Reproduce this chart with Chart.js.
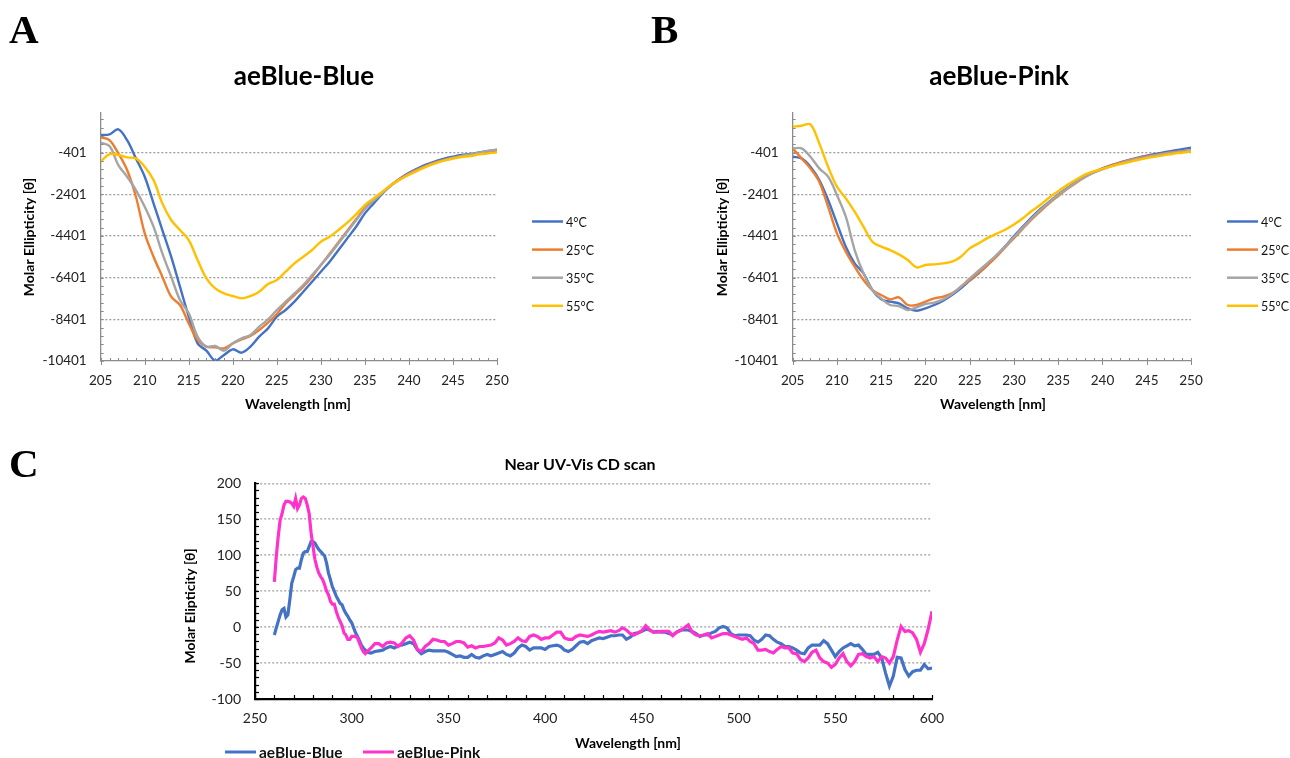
<!DOCTYPE html>
<html>
<head>
<meta charset="utf-8">
<script src="https://cdn.jsdelivr.net/npm/chart.js@4.4.1/dist/chart.umd.min.js"></script>
<style>
  html, body { margin: 0; padding: 0; background: #fff; }
  #wrap { position: relative; width: 1290px; height: 758px; overflow: hidden; }
  #wrap canvas { position: absolute; left: 0; top: 0; }
</style>
</head>
<body>
<div id="wrap">
  <canvas id="chartA" width="1290" height="758"></canvas>
  <canvas id="chartB" width="1290" height="758"></canvas>
  <canvas id="chartC" width="1290" height="758"></canvas>
</div>
<script>
'use strict';

// ---- data: far UV (panels A and B) ----
var temps = ['4°C', '25°C', '35°C', '55°C'];
var wlFar = [205,206,207,208,209,210,211,212,213,214,215,216,217,218,219,220,221,222,223,224,225,
  226,227,228,229,230,231,232,233,234,235,236,237,238,239,240,241,242,243,244,245,246,247,248,249,250];
var yTicksFar = [-10401, -8401, -6401, -4401, -2401, -401];
var xTicksFar = [205, 210, 215, 220, 225, 230, 235, 240, 245, 250];

var blueA4 = [447,479,719,199,-673,-1553,-2833,-4113,-5393,-6833,-8273,-9553,-9905,-10385,-10113,-9841,
  -10001,-9713,-9233,-8833,-8273,-7953,-7553,-7073,-6593,-6113,-5633,-5073,-4513,-3953,-3313,-2833,-2353,
  -1953,-1633,-1361,-1153,-961,-817,-689,-593,-513,-465,-385,-321,-273];
var blueA25 = [335,207,-433,-1233,-2513,-4273,-5393,-6353,-7313,-7713,-8593,-9393,-9713,-9745,-9793,-9553,
  -9361,-9201,-8913,-8561,-8145,-7633,-7233,-6833,-6353,-5793,-5250,-4700,-4150,-3600,-3050,-2650,-2300,
  -1950,-1650,-1400,-1200,-1020,-870,-750,-650,-570,-500,-420,-350,-290];
var blueA35 = [79,-81,-993,-1553,-2193,-2993,-3953,-5233,-6353,-7473,-8113,-9233,-9713,-9681,-9905,-9553,
  -9313,-9153,-8753,-8401,-7953,-7553,-7153,-6753,-6273,-5793,-5300,-4750,-4200,-3650,-3100,-2700,-2330,
  -1970,-1680,-1430,-1230,-1050,-890,-760,-650,-560,-480,-400,-320,-240];
var blueA55 = [-833,-465,-513,-625,-673,-1073,-1713,-2833,-3633,-4113,-4593,-5553,-6433,-6913,-7153,-7281,
  -7393,-7281,-7073,-6705,-6513,-6113,-5713,-5393,-5073,-4673,-4433,-4113,-3761,-3361,-2913,-2593,-2273,
  -1953,-1681,-1473,-1265,-1073,-913,-785,-689,-609,-561,-481,-433,-385];

var pinkB4 = [-593,-673,-1073,-1713,-2673,-3793,-4913,-5713,-6193,-6993,-7441,-7553,-7633,-7873,-7985,-7873,
  -7713,-7505,-7233,-6913,-6545,-6193,-5800,-5350,-4900,-4401,-3950,-3500,-3100,-2750,-2401,-2100,-1800,
  -1550,-1330,-1150,-1000,-870,-750,-640,-545,-460,-380,-300,-230,-161];
var pinkB25 = [-193,-673,-1153,-1793,-2993,-4273,-5153,-5873,-6513,-6993,-7233,-7441,-7345,-7713,-7713,-7553,
  -7393,-7313,-7153,-6833,-6513,-6161,-5800,-5400,-4950,-4500,-4050,-3600,-3200,-2820,-2480,-2150,-1850,
  -1580,-1350,-1170,-1010,-880,-760,-660,-580,-510,-440,-380,-330,-290];
var pinkB35 = [-193,-193,-593,-1153,-1553,-2433,-3473,-5073,-6193,-6993,-7393,-7713,-7761,-7953,-7825,-7665,
  -7601,-7441,-7185,-6833,-6433,-6065,-5700,-5330,-4900,-4450,-4000,-3560,-3150,-2770,-2430,-2120,-1820,
  -1560,-1360,-1200,-1050,-920,-800,-700,-610,-530,-460,-400,-350,-300];
var pinkB55 = [847,895,959,47,-1073,-2033,-2593,-3233,-3953,-4673,-4913,-5073,-5281,-5553,-5905,-5793,
  -5761,-5713,-5633,-5393,-4993,-4753,-4500,-4300,-4100,-3850,-3550,-3200,-2900,-2550,-2250,-1950,-1700,
  -1450,-1300,-1180,-1060,-950,-850,-750,-660,-590,-520,-450,-400,-340];

// ---- data: near UV-Vis (panel C) ----
var wlNear = [260,261,262,263,264,265,266,267,268,269,270,271,272,273,274,275,276,277,278,279,280,281,282,
  283,284,285,286,287,288,289,290,291,292,293,294,295,296,297,298,299,300,301,302,303,304,305,306,307,308,
  310,312,314,316,318,320,322,324,326,328,330,332,334,336,338,340,342,344,346,348,350,352,354,356,358,
  360,362,364,366,368,370,372,374,376,378,380,382,384,386,388,390,392,394,396,398,400,402,404,406,408,
  410,412,414,416,418,420,422,424,426,428,430,432,434,436,438,440,442,444,446,448,450,452,454,456,458,
  460,462,464,466,468,470,472,474,476,478,480,482,484,486,488,490,492,494,496,498,500,502,504,506,508,
  510,512,514,516,518,520,522,524,526,528,530,532,534,536,538,540,542,544,546,548,550,552,554,556,558,
  560,562,564,566,568,570,572,574,576,578,580,582,584,586,588,590,592,594,596,598,600];
var xTicksNear = [250, 300, 350, 400, 450, 500, 550, 600];
var yTicksNear = [-100, -50, 0, 50, 100, 150, 200];

var nearBlue = [-11,-1,8,17,24,26,14,17,38,61,70,80,82,82,94,103,105,105,112,119,119,117,112,108,105,102,99,
  89,75,66,56,50,43,38,33,31,24,19,15,10,6,-1,-8,-13,-19,-25,-29,-32,-35,
  -36,-34,-33,-32,-29,-27,-29,-26,-25,-23,-21,-23,-32,-37,-34,-32,-33,-33,-33,-33,
  -35,-38,-41,-40,-42,-42,-38,-42,-43,-40,-38,-40,-38,-36,-34,-38,-40,-36,-29,-25,
  -27,-32,-29,-29,-29,-31,-27,-26,-25,-27,-32,-34,-31,-26,-21,-20,-23,-19,-17,-15,-16,
  -14,-12,-12,-11,-11,-17,-14,-9,-8,-6,-3,-4,-7,-6,-7,-7,-9,-11,-7,-4,
  -4,-4,-6,-9,-13,-11,-11,-8,-6,-1,1,-1,-9,-12,-11,-11,-11,-12,-18,-21,
  -17,-11,-12,-17,-21,-23,-27,-27,-29,-32,-36,-37,-29,-25,-25,-25,-19,-23,-32,-41,
  -34,-29,-26,-23,-26,-25,-31,-38,-38,-38,-35,-43,-64,-82,-68,-42,-43,-59,-68,-62,
  -60,-60,-52,-58,-57];
var nearPink = [63,98,126,149,158,170,175,175,174,172,168,179,165,170,179,181,179,170,158,131,112,94,83,
  75,70,66,59,50,45,36,32,32,22,14,8,2,-8,-11,-17,-17,-13,-13,-13,-15,-22,-29,-34,-37,-34,
  -29,-23,-23,-27,-22,-21,-22,-27,-22,-15,-12,-18,-31,-34,-27,-23,-17,-18,-20,-20,
  -25,-23,-20,-20,-22,-28,-26,-29,-27,-27,-26,-25,-22,-15,-18,-25,-23,-20,-15,-19,
  -20,-13,-11,-13,-17,-15,-15,-11,-7,-7,-15,-17,-17,-13,-11,-12,-13,-11,-8,-6,-7,
  -6,-5,-7,-5,-1,-4,-9,-11,-8,-5,2,-4,-7,-7,-6,-6,-6,-12,-7,-5,
  -1,3,-7,-11,-12,-11,-9,-15,-13,-11,-9,-9,-11,-13,-15,-17,-15,-20,-23,-32,
  -32,-31,-34,-36,-31,-27,-29,-29,-36,-37,-45,-48,-43,-35,-32,-43,-48,-50,-56,-52,
  -43,-37,-48,-54,-48,-38,-37,-41,-43,-41,-48,-41,-43,-50,-41,-18,1,-6,-5,-8,
  -17,-35,-23,-3,22];

var farColors = ['#4472C4', '#ED7D31', '#A5A5A5', '#FFC000'];
var FONT = 'Lato, "Open Sans", sans-serif';

Chart.defaults.font.family = FONT;
Chart.defaults.color = '#222';

// draws panel letter, titles, legend and the small tick marks
var decor = {
  id: 'decor',
  afterDraw: function (chart, args, o) {
    var ctx = chart.ctx, a = chart.chartArea;
    var xs = chart.scales.x, ys = chart.scales.y;
    ctx.save();
    ctx.strokeStyle = o.tickColor;
    ctx.lineWidth = o.tickWidth;
    var v, p, major;
    for (v = xs.min; v <= xs.max + 1e-6; v += o.xMinor) {
      p = Math.round(xs.getPixelForValue(v)) + 0.5;
      major = Math.abs((v - xs.min) % o.xMajor) < 1e-6;
      ctx.beginPath();
      ctx.moveTo(p, a.bottom - (major ? o.majorIn : o.minorIn));
      ctx.lineTo(p, a.bottom + (major ? o.majorOut : 0));
      ctx.stroke();
    }
    for (v = o.yFrom; v <= ys.max + 1e-6; v += o.yMinor) {
      p = Math.round(ys.getPixelForValue(v)) + 0.5;
      ctx.beginPath();
      ctx.moveTo(a.left, p);
      ctx.lineTo(a.left + o.minorIn, p);
      ctx.stroke();
    }

    ctx.fillStyle = '#000';
    ctx.textBaseline = 'alphabetic';
    ctx.textAlign = 'left';
    ctx.font = 'bold 41px "Liberation Serif", "Times New Roman", serif';
    ctx.fillText(o.letter.text, o.letter.x, o.letter.y);

    ctx.textBaseline = 'middle';
    ctx.textAlign = 'center';
    ctx.font = o.title.font;
    ctx.fillText(o.title.text, o.title.x, o.title.y);
    ctx.font = o.axisFont;
    ctx.fillText(o.xTitle.text, o.xTitle.x, o.xTitle.y);
    ctx.save();
    ctx.translate(o.yTitle.x, o.yTitle.y);
    ctx.rotate(-Math.PI / 2);
    ctx.fillText(o.yTitle.text, 0, 0);
    ctx.restore();

    var lg = o.legend;
    ctx.textAlign = 'left';
    ctx.font = lg.font;
    chart.data.datasets.forEach(function (d, i) {
      var lx = lg.x + i * lg.dx, ly = lg.y + i * lg.dy;
      ctx.strokeStyle = d.borderColor;
      ctx.lineWidth = lg.width;
      ctx.beginPath();
      ctx.moveTo(lx, ly);
      ctx.lineTo(lx + lg.line, ly);
      ctx.stroke();
      ctx.fillStyle = '#111';
      ctx.fillText(d.label, lx + lg.line + lg.gap, ly + 1);
    });
    ctx.restore();
  }
};

function series(xs, ys) {
  return xs.map(function (x, i) { return { x: x, y: ys[i] }; });
}

function farChart(id, values, area, text) {
  var datasets = values.map(function (vals, i) {
    return {
      label: temps[i],
      data: series(wlFar, vals),
      borderColor: farColors[i],
      borderWidth: 2.4,
      pointRadius: 0,
      tension: 0.35,
      order: -i
    };
  });
  return new Chart(document.getElementById(id), {
    type: 'line',
    data: { datasets: datasets },
    plugins: [decor],
    options: {
      responsive: false,
      animation: false,
      events: [],
      layout: { padding: { left: area.left - 60, top: area.top, right: 1290 - area.right, bottom: 758 - area.bottom - 40 } },
      scales: {
        x: {
          type: 'linear', min: 205, max: 250,
          afterBuildTicks: function (s) { s.ticks = xTicksFar.map(function (v) { return { value: v }; }); },
          afterFit: function (s) { s.height = 40; },
          ticks: { padding: 12, autoSkip: false, maxRotation: 0, color: '#222', font: { size: 13.5 },
            callback: function (v) { return String(v); } },
          grid: { display: false, drawTicks: false },
          border: { display: true, color: '#8c8c8c', width: 1.3 }
        },
        y: {
          type: 'linear', min: -10401, max: 1520,
          afterBuildTicks: function (s) { s.ticks = yTicksFar.map(function (v) { return { value: v }; }); },
          afterFit: function (s) { s.width = 60; },
          ticks: { padding: 14, color: '#222', font: { size: 13.5 },
            callback: function (v) { return String(v); } },
          grid: { drawTicks: false, lineWidth: 1.3,
            color: function (c) { return c.tick && c.tick.value === yTicksFar[0] ? 'rgba(0,0,0,0)' : '#9c9c9c'; } },
          border: { display: true, color: '#8c8c8c', width: 1.3, dash: [2, 2] }
        }
      },
      plugins: {
        legend: { display: false },
        tooltip: { enabled: false },
        decor: {
          tickColor: '#8c8c8c', tickWidth: 1, xMinor: 1, xMajor: 5, minorIn: 3, majorIn: 3, majorOut: 4,
          yFrom: -10401, yMinor: 400,
          letter: text.letter,
          title: { text: text.title, x: text.titleX, y: 77, font: 'bold 26px ' + FONT },
          axisFont: 'bold 14px ' + FONT,
          xTitle: { text: 'Wavelength [nm]', x: text.xTitleX, y: 404 },
          yTitle: { text: 'Molar Ellipticity [θ]', x: text.yTitleX, y: 237 },
          legend: { x: text.legendX, y: 221.5, dx: 0, dy: 28.1, line: 31, gap: 3, width: 2.5, font: '12.5px ' + FONT }
        }
      }
    }
  });
}

farChart('chartA', [blueA4, blueA25, blueA35, blueA55],
  { left: 100.7, top: 112.7, right: 497, bottom: 361 },
  { letter: { text: 'A', x: 9, y: 43 }, title: 'aeBlue-Blue', titleX: 304, xTitleX: 298, yTitleX: 29, legendX: 532 });

farChart('chartB', [pinkB4, pinkB25, pinkB35, pinkB55],
  { left: 792.7, top: 112.7, right: 1191, bottom: 361 },
  { letter: { text: 'B', x: 651, y: 43 }, title: 'aeBlue-Pink', titleX: 999, xTitleX: 993, yTitleX: 722, legendX: 1227 });

new Chart(document.getElementById('chartC'), {
  type: 'line',
  data: {
    datasets: [
      { label: 'aeBlue-Blue', data: series(wlNear, nearBlue), borderColor: '#4472C4', borderWidth: 3.2,
        pointRadius: 0, tension: 0, order: 0 },
      { label: 'aeBlue-Pink', data: series(wlNear, nearPink), borderColor: '#FF33CC', borderWidth: 3.2,
        pointRadius: 0, tension: 0, order: -1 }
    ]
  },
  plugins: [decor],
  options: {
    responsive: false,
    animation: false,
    events: [],
    layout: { padding: { left: 255 - 60, top: 483.3, right: 1290 - 932, bottom: 758 - 699 - 40 } },
    scales: {
      x: {
        type: 'linear', min: 250, max: 600,
        afterBuildTicks: function (s) { s.ticks = xTicksNear.map(function (v) { return { value: v }; }); },
        afterFit: function (s) { s.height = 40; },
        ticks: { padding: 11, autoSkip: false, maxRotation: 0, color: '#222', font: { size: 14 },
          callback: function (v) { return String(v); } },
        grid: { display: false, drawTicks: false },
        border: { display: true, color: '#000', width: 2.2 }
      },
      y: {
        type: 'linear', min: -100, max: 200,
        afterBuildTicks: function (s) { s.ticks = yTicksNear.map(function (v) { return { value: v }; }); },
        afterFit: function (s) { s.width = 60; },
        ticks: { padding: 14, color: '#222', font: { size: 14 },
          callback: function (v) { return String(v); } },
        grid: { drawTicks: false, lineWidth: 1.6,
          color: function (c) { return c.tick && c.tick.value === yTicksNear[0] ? 'rgba(0,0,0,0)' : '#b4b4b4'; } },
        border: { display: true, color: '#000', width: 2.2, dash: [2, 2] }
      }
    },
    plugins: {
      legend: { display: false },
      tooltip: { enabled: false },
      decor: {
        tickColor: '#000', tickWidth: 1.2, xMinor: 10, xMajor: 50, minorIn: 4, majorIn: 4, majorOut: 0,
        yFrom: -100, yMinor: 10,
        letter: { text: 'C', x: 9, y: 477 },
        title: { text: 'Near UV-Vis CD scan', x: 580, y: 465, font: 'bold 16px ' + FONT },
        axisFont: 'bold 14px ' + FONT,
        xTitle: { text: 'Wavelength [nm]', x: 628, y: 743 },
        yTitle: { text: 'Molar Elipticity [θ]', x: 190, y: 606 },
        legend: { x: 225, y: 752, dx: 138, dy: 0, line: 31, gap: 3, width: 3, font: 'bold 15.5px ' + FONT }
      }
    }
  }
});
</script>
</body>
</html>
